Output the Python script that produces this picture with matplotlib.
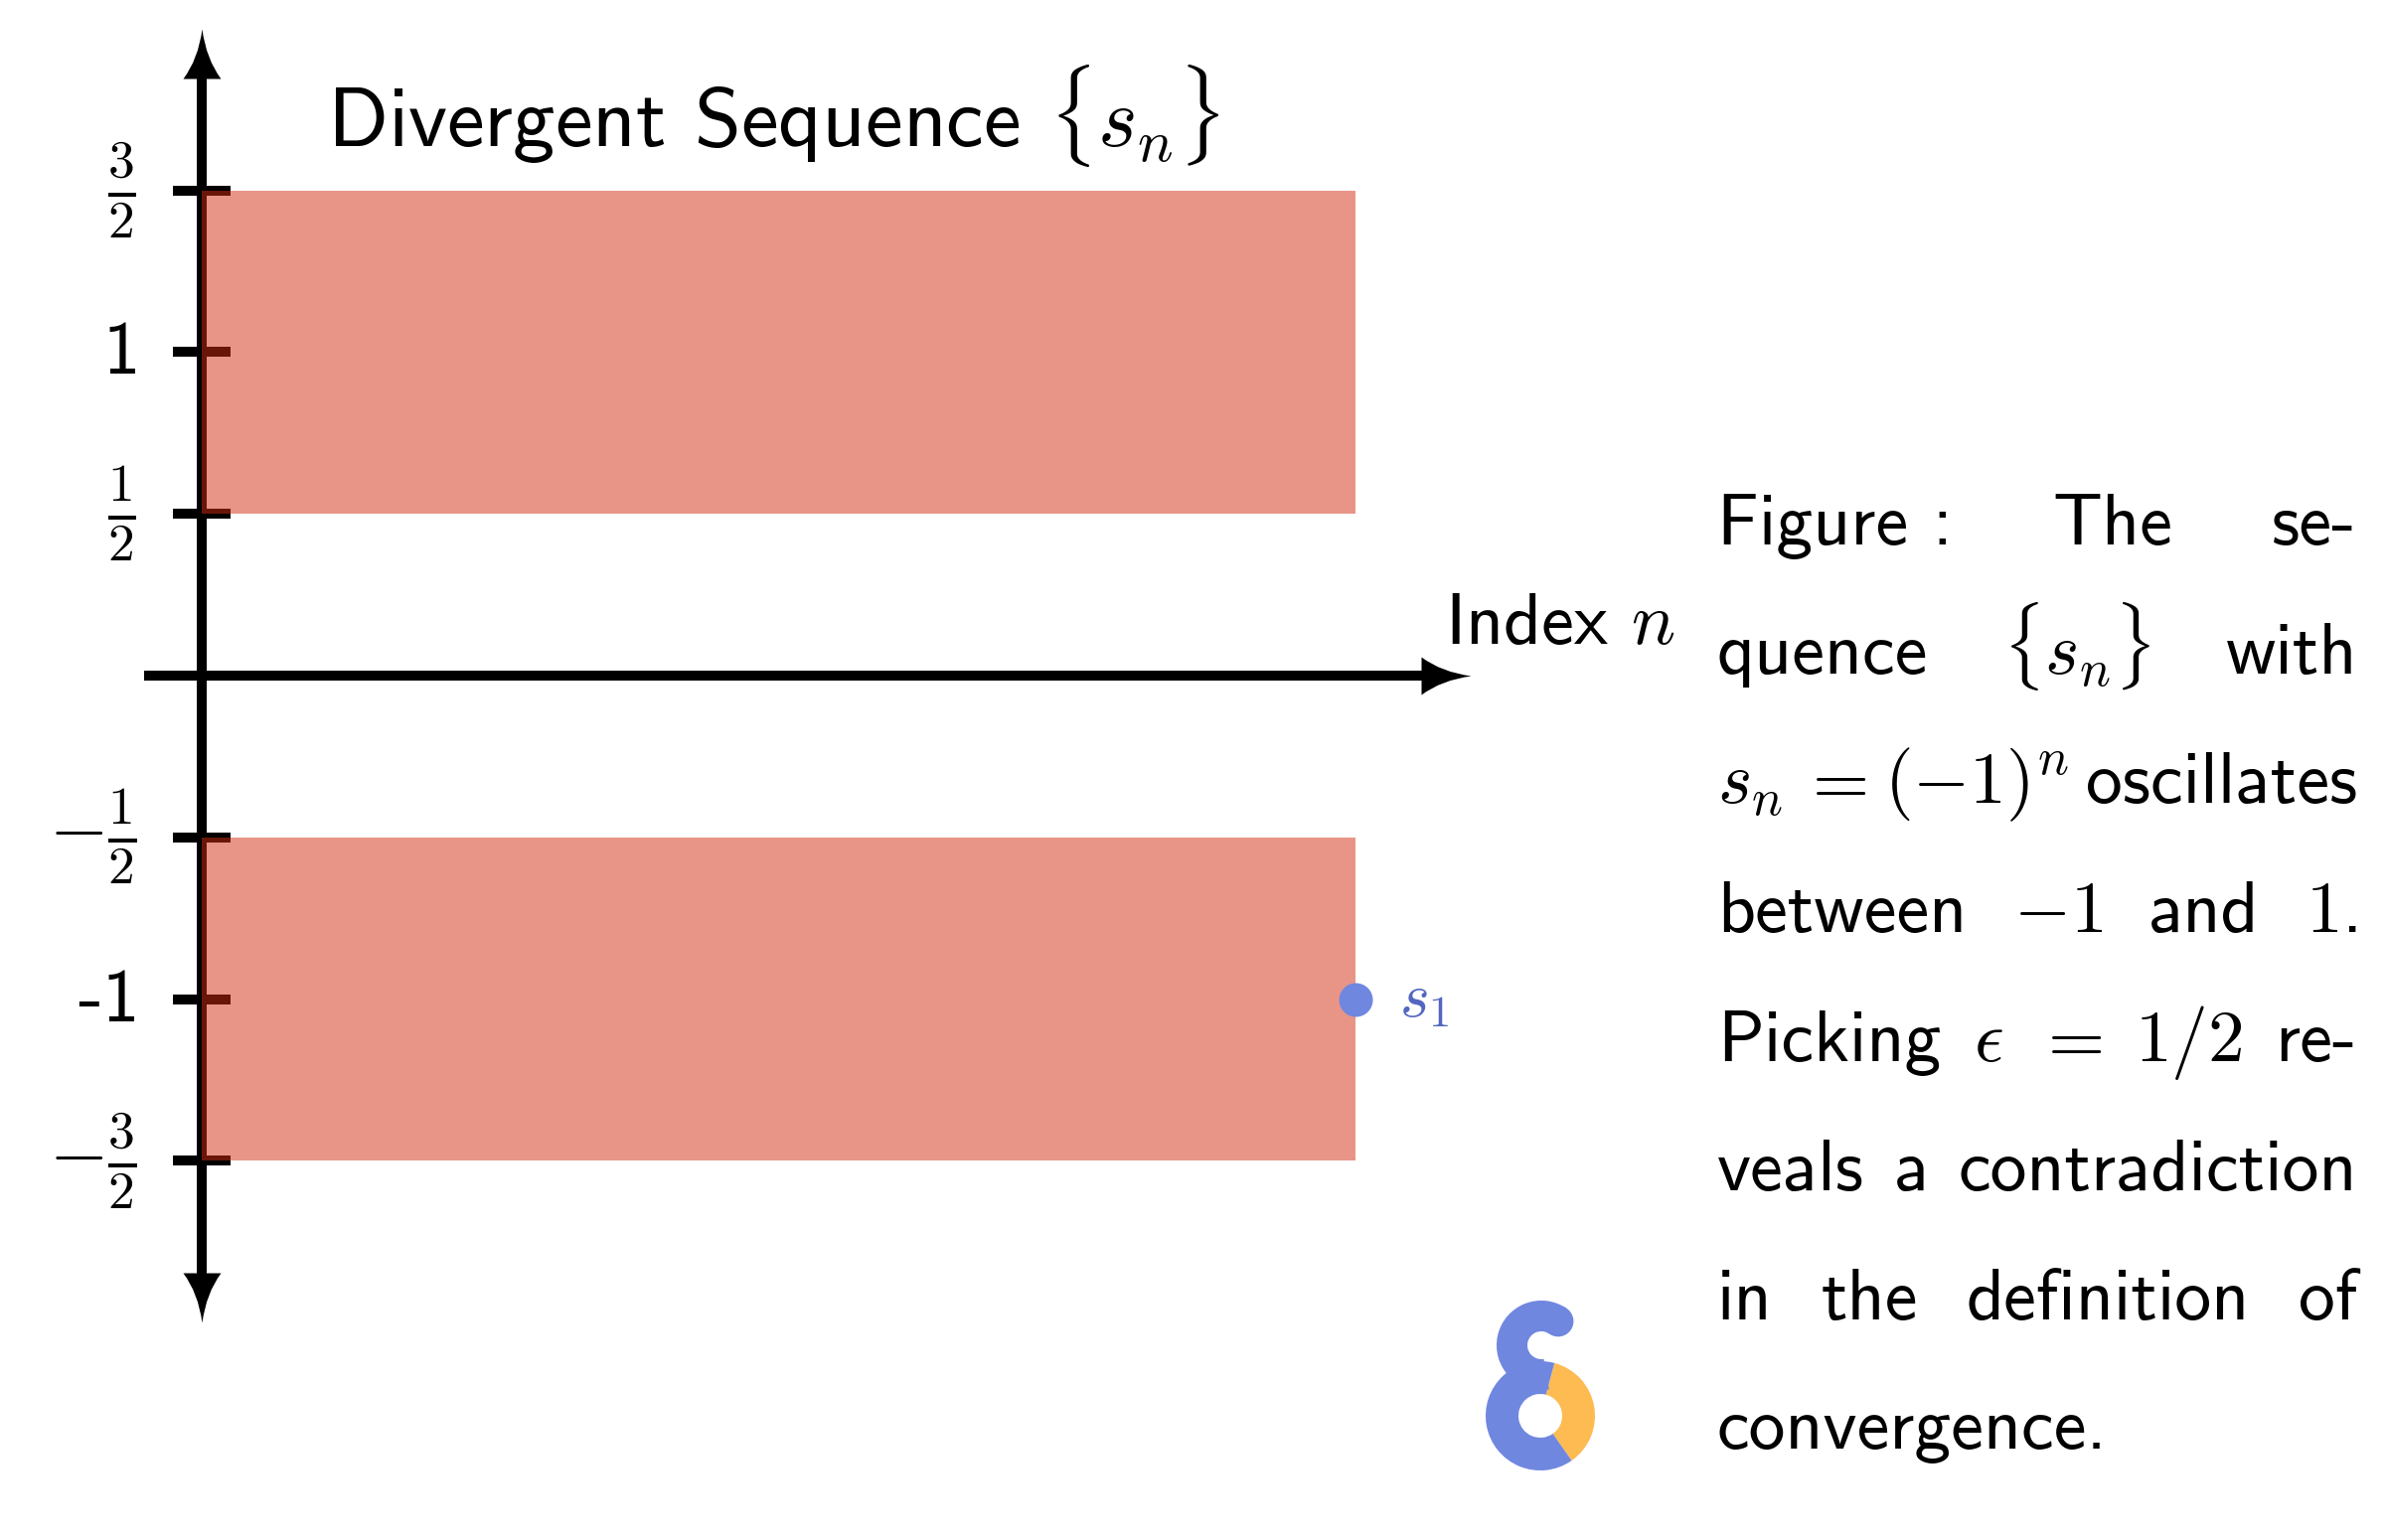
import matplotlib
matplotlib.use('Agg')
import matplotlib.pyplot as plt
from matplotlib.path import Path
from matplotlib.patches import Wedge, Circle
import numpy as np

plt.rcParams['mathtext.fontset'] = 'cm'
plt.rcParams['axes.unicode_minus'] = False
FAM = ['cmss10', 'DejaVu Sans']

# ---------------- data ----------------
band_centers = [1.0, -1.0]
epsilon = 0.5
band_n_start = 0.0
band_n_end = 1.0
point_n = [1.0]
point_s = [-1.0]
point_labels = [r'$s_1$']
tick_values = [1.5, 1.0, 0.5, -0.5, -1.0, -1.5]
tick_labels = [r'$\frac{3}{2}$', '1', r'$\frac{1}{2}$',
               r'$-\frac{1}{2}$', '-1', r'$-\frac{3}{2}$']
y_axis_range = [-2.0, 2.0]
n_axis_range = [-0.05, 1.1]
title_text = r'Divergent Sequence $\{s_n\}$'
x_label_text = r'Index $n$'
caption_lines = [
    ['Figure :', 'The', 'se-'],
    ['quence', r'$\{s_n\}$', 'with'],
    [r'$s_n$', r'$=$', r'$(-1)^n$', 'oscillates'],
    ['between', r'$-1$', 'and', r'$1$.'],
    ['Picking', r'$\epsilon$', r'$=$', r'$1/2$', 're-'],
    ['veals', 'a', 'contradiction'],
    ['in', 'the', 'definition', 'of'],
    ['convergence.'],
]

# ---------------- layout ----------------
W, H, DPI = 2400, 1550, 100
PT = 72.0 / DPI           # points per pixel
OX, OY = 203, 680         # pixel position of origin
UX, UY = 1161.0, 325.6    # pixels per data unit
PXX, PXY = 1.0 / UX, 1.0 / UY

BAND_COLOR = '#D22C10'
BLUE = '#7087DF'
BLUE_TXT = '#5366BF'
YELLOW = '#FDBB52'

fig = plt.figure(figsize=(W / DPI, H / DPI), dpi=DPI)
fig.patch.set_facecolor('white')
ax = fig.add_axes([0, 0, 1, 1])
ax.set_xlim(-OX / UX, (W - OX) / UX)
ax.set_ylim(-(H - OY) / UY, OY / UY)
ax.axis('off')

# arrowhead marker paths (tip at origin)
L, HW = 50, 19
up_verts = [(0, 0), (4, -30), (HW, -L), (-HW, -L), (-4, -30), (0, 0)]
codes = [Path.MOVETO, Path.CURVE3, Path.CURVE3, Path.LINETO, Path.CURVE3, Path.CURVE3]
up_path = Path(up_verts, codes)
down_path = Path([(x, -y) for x, y in up_verts], codes)
right_path = Path([(y, -x) for x, y in up_verts], codes)
head_ms = 2 * L * PT

lw_axis = 10 * PT
# y axis
ax.plot([0, 0], [y_axis_range[0] + 40 * PXY, y_axis_range[1] - 40 * PXY],
        color='k', lw=lw_axis, solid_capstyle='butt', zorder=2)
ax.plot([0], [y_axis_range[1]], marker=up_path, ms=head_ms, color='k', mew=0, zorder=2)
ax.plot([0], [y_axis_range[0]], marker=down_path, ms=head_ms, color='k', mew=0, zorder=2)
# n axis
ax.plot([n_axis_range[0], n_axis_range[1] - 40 * PXX], [0, 0],
        color='k', lw=lw_axis, solid_capstyle='butt', zorder=2)
ax.plot([n_axis_range[1]], [0], marker=right_path, ms=head_ms, color='k', mew=0, zorder=2)

# ticks
ax.plot(np.zeros(len(tick_values)), tick_values, ls='none', marker='_',
        ms=58 * PT, mew=10 * PT, color='k', zorder=2)
for v, lab in zip(tick_values, tick_labels):
    is_frac = '\\frac' in lab
    ax.annotate(lab, (0, v),
                xytext=(-(OX - (137 if is_frac else 141)) * PT, 0 if is_frac else -3 * PT),
                textcoords='offset points', ha='right', va='center',
                fontsize=55 if is_frac else 54, family=FAM, color='k')

# epsilon bands
for c in band_centers:
    ax.fill_between([band_n_start, band_n_end], c - epsilon, c + epsilon,
                    color=BAND_COLOR, alpha=0.5, lw=0, zorder=3)

# sequence point
ax.plot(point_n, point_s, 'o', ms=34 * PT, color=BLUE, mec='none', zorder=4)
for n, s, lab in zip(point_n, point_s, point_labels):
    ax.annotate(lab, (n, s), xytext=(44 * PT, 0), textcoords='offset points',
                ha='left', va='center', fontsize=46, color=BLUE_TXT)

# title and axis label
fig.text(329 / W, 1 - 148 / H, title_text, fontsize=61, family=FAM,
         ha='left', va='baseline')
fig.text(1454 / W, 1 - 648 / H, x_label_text, fontsize=53, family=FAM,
         ha='left', va='baseline')

# justified caption
fig.canvas.draw()
r = fig.canvas.get_renderer()
CL, CR = 1728, 2372
base0, lead = 548, 130
for i, toks in enumerate(caption_lines):
    yb = 1 - (base0 + i * lead) / H
    ts = [fig.text(0, yb, t, fontsize=53, family=FAM, ha='left', va='baseline')
          for t in toks]
    ws = [t.get_window_extent(r).width for t in ts]
    if len(ts) > 1 and i < len(caption_lines) - 1:
        gap = (CR - CL - sum(ws)) / (len(ts) - 1)
    else:
        gap = 20
    x = CL
    for t, w in zip(ts, ws):
        t.set_x(x / W)
        x += w + gap

# logo (pixel coords, y down)
lax = fig.add_axes([1450 / W, 1 - 1500 / H, 200 / W, 250 / H])
lax.set_xlim(1450, 1650)
lax.set_ylim(1500, 1250)
lax.set_aspect('equal')
lax.axis('off')
lax.add_patch(Wedge((1550, 1425), 55, -75, 55, width=33, color=YELLOW, lw=0))
lax.add_patch(Wedge((1550, 1425), 55, 55, 285, width=33, color=BLUE, lw=0))
lax.add_patch(Wedge((1551, 1354), 45, 80, 305, width=31, color=BLUE, lw=0))
lax.add_patch(Circle((1551 + 29.5 * np.cos(np.radians(55)),
                      1354 - 29.5 * np.sin(np.radians(55))), 15.5, color=BLUE, lw=0))

fig.savefig('out.png', dpi=DPI, facecolor='white')
